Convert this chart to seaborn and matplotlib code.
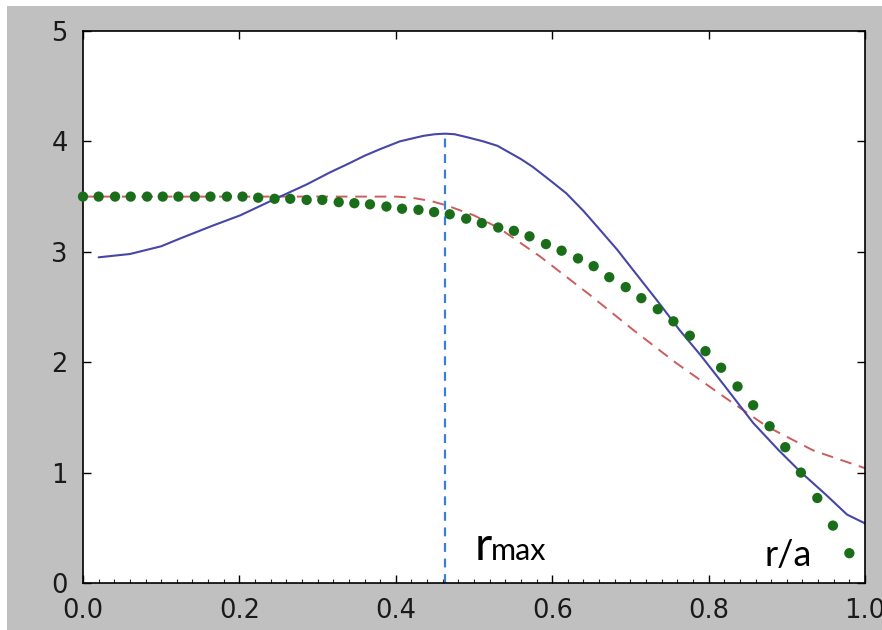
import numpy as np
import pandas as pd
import matplotlib
matplotlib.use("Agg")
import matplotlib.pyplot as plt
from matplotlib.patches import Rectangle
from matplotlib.ticker import MultipleLocator, FormatStrFormatter
import seaborn as sns

# green dots (measured profile)
r_dots = [0.000, 0.020, 0.041, 0.061, 0.082, 0.102, 0.122, 0.143, 0.163, 0.184,
          0.204, 0.224, 0.245, 0.265, 0.286, 0.306, 0.327, 0.347, 0.367, 0.388,
          0.408, 0.429, 0.449, 0.469, 0.490, 0.510, 0.531, 0.551, 0.571, 0.592,
          0.612, 0.633, 0.653, 0.673, 0.694, 0.714, 0.735, 0.755, 0.776, 0.796,
          0.816, 0.837, 0.857, 0.878, 0.898, 0.918, 0.939, 0.959, 0.980]
y_dots = [3.50, 3.50, 3.50, 3.50, 3.50, 3.50, 3.50, 3.50, 3.50, 3.50,
          3.50, 3.49, 3.48, 3.48, 3.47, 3.47, 3.45, 3.44, 3.43, 3.41,
          3.39, 3.38, 3.36, 3.34, 3.30, 3.26, 3.22, 3.19, 3.14, 3.07,
          3.01, 2.94, 2.87, 2.77, 2.68, 2.58, 2.48, 2.37, 2.24, 2.10,
          1.95, 1.78, 1.61, 1.42, 1.23, 1.00, 0.77, 0.52, 0.27]

# blue solid curve
r_blue = [0.02, 0.06, 0.10, 0.124, 0.167, 0.201, 0.246, 0.286, 0.316, 0.34, 0.36,
          0.38, 0.405, 0.435, 0.45, 0.463, 0.475, 0.49, 0.512, 0.53, 0.545,
          0.56, 0.575, 0.595, 0.618, 0.64, 0.661, 0.683, 0.704, 0.734,
          0.763, 0.789, 0.82, 0.857, 0.89, 0.917, 0.95, 0.977, 1.0]
y_blue = [2.95, 2.98, 3.05, 3.12, 3.24, 3.33, 3.48, 3.61, 3.72, 3.80, 3.87,
          3.93, 4.00, 4.05, 4.065, 4.07, 4.065, 4.04, 4.00, 3.96, 3.90,
          3.84, 3.77, 3.66, 3.53, 3.37, 3.20, 3.02, 2.83, 2.56,
          2.29, 2.07, 1.79, 1.45, 1.20, 1.01, 0.80, 0.62, 0.54]

# red dashed curve
r_red = [0.0, 0.1, 0.2, 0.3, 0.36, 0.40, 0.42, 0.445, 0.465, 0.50, 0.533, 0.584,
         0.648, 0.704, 0.759, 0.819, 0.874, 0.934, 1.0]
y_red = [3.50, 3.50, 3.50, 3.50, 3.50, 3.50, 3.49, 3.46, 3.42, 3.33, 3.21, 2.96,
         2.61, 2.29, 1.99, 1.69, 1.42, 1.20, 1.04]

r_max = 0.463
y_peak = 4.07

dots = pd.DataFrame({"r": r_dots, "y": y_dots})
blue = pd.DataFrame({"r": r_blue, "y": y_blue})
red = pd.DataFrame({"r": r_red, "y": y_red})

sns.set_style("ticks")
plt.rcParams['font.family'] = ['DejaVu Sans']

fig = plt.figure(figsize=(8.82, 6.3), dpi=100)
fig.patch.set_facecolor("white")
fig.patches.append(Rectangle((7 / 882, 0), 1, 624 / 630, transform=fig.transFigure,
                             facecolor="#c0c0c0", edgecolor="none", zorder=-10))
ax = fig.add_axes([83 / 882, 47 / 630, 782 / 882, 552 / 630])
ax.set_facecolor("white")

sns.lineplot(data=red, x="r", y="y", ax=ax, color="#cd5c5c", lw=1.4,
             estimator=None, sort=False)
ax.lines[-1].set_dashes([6, 4])
sns.lineplot(data=blue, x="r", y="y", ax=ax, color="#4646a8", lw=1.5,
             estimator=None, sort=False)
ax.plot([r_max, r_max], [0, y_peak], color="#3b7fd4", lw=1.6, ls=(0, (4, 3)))
sns.scatterplot(data=dots, x="r", y="y", ax=ax, color="#1a6e1a", s=55,
                edgecolor="none", zorder=5, clip_on=False)

ax.set_xlim(0, 1)
ax.set_ylim(0, 5)
ax.set_xlabel("")
ax.set_ylabel("")
ax.xaxis.set_major_locator(MultipleLocator(0.2))
ax.xaxis.set_minor_locator(MultipleLocator(0.02))
ax.xaxis.set_major_formatter(FormatStrFormatter("%.1f"))
ax.yaxis.set_major_locator(MultipleLocator(1))
ax.tick_params(axis="both", which="major", direction="in", length=6, width=1,
               labelsize=18.5, pad=11, colors="black", labelcolor="#1a1a1a",
               top=True, right=True)
ax.tick_params(axis="x", which="minor", direction="in", length=3, width=0.8,
               bottom=True, top=False)
for sp in ax.spines.values():
    sp.set_color("black")
    sp.set_linewidth(1.2)

ax.text(0.501, 0.208, "r", fontsize=34, family=["Lato", "DejaVu Sans"],
        color="black", va="baseline", ha="left")
ax.text(0.521, 0.208, "max", fontsize=22, family=["Lato", "DejaVu Sans"],
        color="black", va="baseline", ha="left")
ax.text(0.872, 0.154, "r/a", fontsize=26, family=["Lato", "DejaVu Sans"],
        color="black", va="baseline", ha="left")

fig.savefig("out.png", dpi=100, facecolor=fig.get_facecolor())
